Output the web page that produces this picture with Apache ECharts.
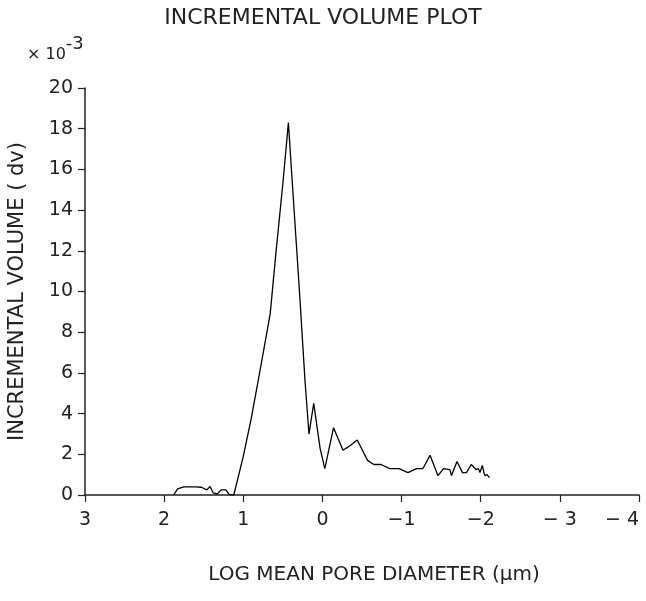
<!DOCTYPE html>
<html>
<head>
<meta charset="utf-8">
<script src="https://cdn.jsdelivr.net/npm/echarts@6/dist/echarts.min.js"></script>
<style>
  html, body { margin: 0; padding: 0; background: #fff; }
  #chart { width: 646px; height: 601px; }
</style>
</head>
<body>
<div id="chart"></div>
<script>
// log mean pore diameter (x) and incremental volume (x10^-3)
var logDiameter = [1.88, 1.83, 1.75, 1.60, 1.53, 1.46, 1.42, 1.38, 1.33, 1.28, 1.22, 1.18, 1.12,
  1.00, 0.90, 0.78, 0.66, 0.59, 0.50, 0.43, 0.39, 0.28, 0.26, 0.22, 0.17, 0.11, 0.03, -0.03,
  -0.14, -0.26, -0.34, -0.44, -0.57, -0.65, -0.74, -0.85, -0.97, -1.08, -1.19, -1.27, -1.36,
  -1.46, -1.53, -1.61, -1.63, -1.70, -1.77, -1.82, -1.88, -1.94, -1.97, -1.99, -2.02, -2.05,
  -2.08, -2.11];
var incVolume = [0.0, 0.3, 0.4, 0.4, 0.38, 0.25, 0.42, 0.1, 0.05, 0.25, 0.25, 0.03, 0.0,
  1.9, 3.75, 6.3, 8.9, 11.8, 15.3, 18.3, 15.9, 9.4, 8.1, 5.6, 3.0, 4.5, 2.3, 1.3,
  3.3, 2.2, 2.4, 2.7, 1.7, 1.5, 1.5, 1.3, 1.3, 1.1, 1.3, 1.3, 1.95,
  0.95, 1.3, 1.25, 0.95, 1.65, 1.1, 1.1, 1.5, 1.25, 1.3, 1.1, 1.45, 0.95,
  1.0, 0.85];
var xTicks = [3, 2, 1, 0, -1, -2, -3, -4];
var yTicks = [0, 2, 4, 6, 8, 10, 12, 14, 16, 18, 20];

var seriesData = logDiameter.map(function (x, i) { return [x, incVolume[i]]; });
var font = "'DejaVu Sans', sans-serif";
var ink = '#222';

var chart = echarts.init(document.getElementById('chart'));
chart.setOption({
  animation: false,
  backgroundColor: '#fff',
  title: [{
    text: 'INCREMENTAL VOLUME PLOT',
    left: 'center',
    top: 2,
    textStyle: { fontFamily: font, fontSize: 22, fontWeight: 'normal', color: ink }
  }, {
    text: '{a|× 10}{b|-3}',
    left: 22,
    top: 28,
    textStyle: {
      fontWeight: 'normal',
      rich: {
        a: { fontFamily: font, fontSize: 16, fontWeight: 'normal', color: ink, padding: [14, 0, 0, 0] },
        b: { fontFamily: font, fontSize: 18, fontWeight: 'normal', color: ink, padding: [0, 0, 8, 0] }
      }
    }
  }],
  grid: { left: 85, right: 7, top: 88, bottom: 106, outerBoundsMode: 'none', containLabel: false },
  xAxis: {
    type: 'value',
    inverse: true,
    min: xTicks[xTicks.length - 1],
    max: xTicks[0],
    interval: 1,
    name: 'LOG MEAN PORE DIAMETER (μm)',
    nameLocation: 'middle',
    nameGap: 70,
    nameTextStyle: { fontFamily: font, fontSize: 20, color: ink, padding: [0, 0, 0, 24] },
    axisLine: { lineStyle: { color: ink, width: 1.5 } },
    axisTick: { length: 7, lineStyle: { color: ink, width: 1.2 } },
    axisLabel: {
      margin: 16, fontFamily: font, fontSize: 19, color: ink,
      alignMinLabel: 'right',
      formatter: function (v) {
        if (v <= -3) return '− ' + (-v);
        if (v < 0) return '−' + (-v);
        return String(v);
      }
    },
    splitLine: { show: false }
  },
  yAxis: {
    type: 'value',
    min: yTicks[0],
    max: yTicks[yTicks.length - 1],
    interval: 2,
    name: 'INCREMENTAL VOLUME ( dv)',
    nameLocation: 'middle',
    nameGap: 57,
    nameTextStyle: { fontFamily: font, fontSize: 21, color: ink },
    axisLine: { show: true, onZero: false, lineStyle: { color: ink, width: 1.5 } },
    axisTick: { show: true, length: 7, lineStyle: { color: ink, width: 1.2 } },
    axisLabel: { margin: 12, fontFamily: font, fontSize: 19, color: ink },
    splitLine: { show: false }
  },
  series: [{
    type: 'line',
    data: seriesData,
    showSymbol: false,
    symbol: 'none',
    lineStyle: { color: '#000', width: 1.3 }
  }]
});
</script>
</body>
</html>
